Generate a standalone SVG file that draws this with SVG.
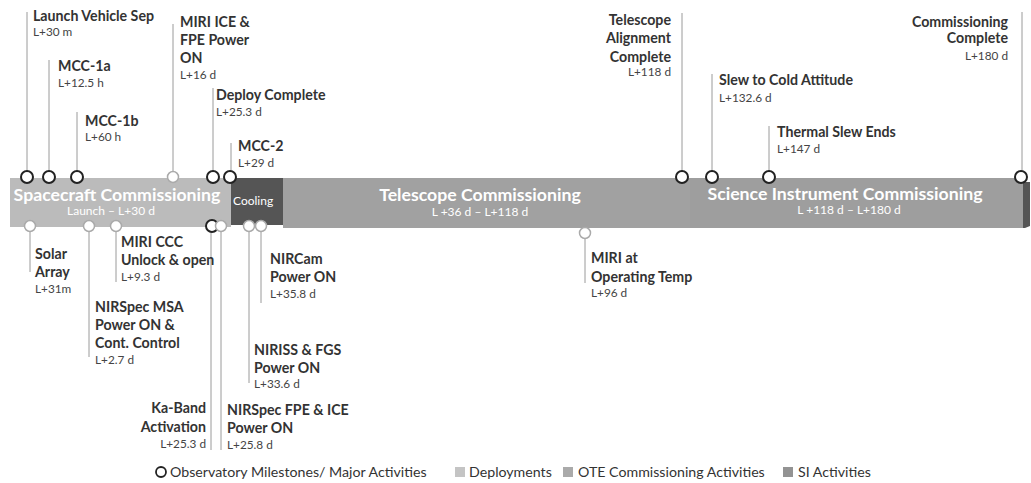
<svg xmlns="http://www.w3.org/2000/svg" width="1031" height="483" viewBox="0 0 1031 483">
<style>
.lbl{font-family:Lato,"Liberation Sans",sans-serif;font-weight:bold;font-size:14.2px;fill:#333}
.dt{font-family:Lato,"Liberation Sans",sans-serif;font-size:11.8px;fill:#444}
.r{text-anchor:end}
.bt{font-family:Lato,"Liberation Sans",sans-serif;font-weight:bold;font-size:17.7px;fill:#fff}
.bs{font-family:Lato,"Liberation Sans",sans-serif;font-size:12px;fill:#fff}
.c{text-anchor:middle}
.lead{stroke:#9a9a9a;stroke-width:1;fill:none}
.ms{fill:#fff;stroke:#222;stroke-width:2}
.mi{fill:#fff;stroke:#aaa;stroke-width:1.5}
.lg{font-family:Lato,"Liberation Sans",sans-serif;font-size:14.2px;fill:#333}
</style>
<rect width="1031" height="483" fill="#fff"/>
<g id="bar">
  <g id="spacecraft-commissioning">
    <rect x="10" y="178" width="221" height="49" fill="#bbbbbb"/>
    <text class="bt c" x="117" y="201">Spacecraft Commissioning</text>
    <text class="bs c" x="111" y="215">Launch – L+30 d</text>
  </g>
  <g id="cooling">
    <rect x="231" y="178" width="52" height="47" fill="#555"/>
    <text class="bs" x="233" y="205" font-size="14">Cooling</text>
  </g>
  <g id="telescope-commissioning">
    <rect x="283" y="178" width="407" height="50" fill="#a1a1a1"/>
    <text class="bt c" x="480" y="201">Telescope Commissioning</text>
    <text class="bs c" x="480" y="216" font-size="13">L +36 d – L+118 d</text>
  </g>
  <g id="si-commissioning">
    <rect x="690" y="178" width="333" height="50" fill="#9e9e9e"/>
    <polygon points="1023,182 1030,182 1030,226 1025,228 1023,228" fill="#555"/>
    <text class="bt c" x="845" y="200">Science Instrument Commissioning</text>
    <text class="bs c" x="849" y="214" font-size="12.5">L +118 d – L+180 d</text>
  </g>
</g>
<g id="connectors">
  <line class="lead" x1="27" y1="12" x2="27" y2="171"/>
  <line class="lead" x1="49" y1="60" x2="49" y2="171"/>
  <line class="lead" x1="77" y1="112" x2="77" y2="171"/>
  <line class="lead" x1="173" y1="24" x2="173" y2="172"/>
  <line class="lead" x1="213" y1="88" x2="213" y2="171"/>
  <line class="lead" x1="231" y1="143" x2="231" y2="171"/>
  <line class="lead" x1="682" y1="13" x2="682" y2="171"/>
  <line class="lead" x1="712" y1="74" x2="712" y2="171"/>
  <line class="lead" x1="769" y1="126" x2="769" y2="171"/>
  <line class="lead" x1="1022" y1="12" x2="1022" y2="171"/>
  <line class="lead" x1="30" y1="232" x2="30" y2="272"/>
  <line class="lead" x1="89" y1="232" x2="89" y2="357"/>
  <line class="lead" x1="116" y1="232" x2="116" y2="282"/>
  <line class="lead" x1="211" y1="232" x2="211" y2="450"/>
  <line class="lead" x1="221" y1="232" x2="221" y2="450"/>
  <line class="lead" x1="249" y1="232" x2="249" y2="383"/>
  <line class="lead" x1="261" y1="232" x2="261" y2="303"/>
  <line class="lead" x1="585" y1="239" x2="585" y2="283"/>
</g>
<g id="launch-vehicle-sep">
  <circle class="ms" cx="27" cy="177" r="6"/>
  <text class="lbl" x="33" y="21">Launch Vehicle Sep</text>
  <text class="dt" x="33" y="36">L+30 m</text>
</g>
<g id="mcc-1a">
  <circle class="ms" cx="49" cy="177" r="6"/>
  <text class="lbl" x="58" y="71">MCC-1a</text>
  <text class="dt" x="58" y="87">L+12.5 h</text>
</g>
<g id="mcc-1b">
  <circle class="ms" cx="77" cy="177" r="6"/>
  <text class="lbl" x="85" y="126">MCC-1b</text>
  <text class="dt" x="85" y="141">L+60 h</text>
</g>
<g id="miri-ice-fpe">
  <circle class="mi" cx="173" cy="177" r="5.5"/>
  <text class="lbl" x="180" y="27">MIRI ICE &amp;</text>
  <text class="lbl" x="180" y="45">FPE Power</text>
  <text class="lbl" x="180" y="63">ON</text>
  <text class="dt" x="180" y="79">L+16 d</text>
</g>
<g id="deploy-complete">
  <circle class="ms" cx="213" cy="177" r="6"/>
  <text class="lbl" x="216" y="100">Deploy Complete</text>
  <text class="dt" x="216" y="116">L+25.3 d</text>
</g>
<g id="mcc-2">
  <circle class="ms" cx="230" cy="177" r="6"/>
  <text class="lbl" x="238" y="151">MCC-2</text>
  <text class="dt" x="238" y="167">L+29 d</text>
</g>
<g id="telescope-alignment">
  <circle class="ms" cx="682" cy="177" r="6"/>
  <text class="lbl r" x="671" y="25">Telescope</text>
  <text class="lbl r" x="671" y="43">Alignment</text>
  <text class="lbl r" x="671" y="62">Complete</text>
  <text class="dt r" x="671" y="76">L+118 d</text>
</g>
<g id="slew-cold">
  <circle class="ms" cx="712" cy="177" r="6"/>
  <text class="lbl" x="719" y="85">Slew to Cold Attitude</text>
  <text class="dt" x="719" y="102">L+132.6 d</text>
</g>
<g id="thermal-slew">
  <circle class="ms" cx="769" cy="177" r="6"/>
  <text class="lbl" x="777" y="137">Thermal Slew Ends</text>
  <text class="dt" x="777" y="153">L+147 d</text>
</g>
<g id="commissioning-complete">
  <circle class="ms" cx="1021" cy="177" r="6"/>
  <text class="lbl r" x="1008" y="27">Commissioning</text>
  <text class="lbl r" x="1008" y="43">Complete</text>
  <text class="dt r" x="1008" y="60">L+180 d</text>
</g>
<g id="solar-array">
  <circle class="mi" cx="30" cy="226" r="5.5"/>
  <text class="lbl" x="35" y="259">Solar</text>
  <text class="lbl" x="35" y="277">Array</text>
  <text class="dt" x="35" y="293">L+31m</text>
</g>
<g id="nirspec-msa">
  <circle class="mi" cx="89" cy="226" r="5.5"/>
  <text class="lbl" x="95" y="312">NIRSpec MSA</text>
  <text class="lbl" x="95" y="330">Power ON &amp;</text>
  <text class="lbl" x="95" y="348">Cont. Control</text>
  <text class="dt" x="95" y="364">L+2.7 d</text>
</g>
<g id="miri-ccc">
  <circle class="mi" cx="116" cy="226" r="5.5"/>
  <text class="lbl" x="121" y="247">MIRI CCC</text>
  <text class="lbl" x="121" y="265">Unlock &amp; open</text>
  <text class="dt" x="121" y="281">L+9.3 d</text>
</g>
<g id="ka-band">
  <circle class="ms" cx="212" cy="226" r="6"/>
  <text class="lbl r" x="206" y="413">Ka-Band</text>
  <text class="lbl r" x="206" y="432">Activation</text>
  <text class="dt r" x="206" y="448">L+25.3 d</text>
</g>
<g id="nirspec-fpe">
  <circle class="mi" cx="221" cy="226" r="5.5"/>
  <text class="lbl" x="227" y="415">NIRSpec FPE &amp; ICE</text>
  <text class="lbl" x="227" y="433">Power ON</text>
  <text class="dt" x="227" y="449">L+25.8 d</text>
</g>
<g id="niriss-fgs">
  <circle class="mi" cx="249" cy="226" r="5.5"/>
  <text class="lbl" x="254" y="355">NIRISS &amp; FGS</text>
  <text class="lbl" x="254" y="373">Power ON</text>
  <text class="dt" x="254" y="388">L+33.6 d</text>
</g>
<g id="nircam">
  <circle class="mi" cx="261" cy="226" r="5.5"/>
  <text class="lbl" x="270" y="264">NIRCam</text>
  <text class="lbl" x="270" y="282">Power ON</text>
  <text class="dt" x="270" y="298">L+35.8 d</text>
</g>
<g id="miri-temp">
  <circle class="mi" cx="585" cy="233" r="5.5"/>
  <text class="lbl" x="591" y="263">MIRI at</text>
  <text class="lbl" x="591" y="282">Operating Temp</text>
  <text class="dt" x="591" y="297">L+96 d</text>
</g>
<g id="legend">
  <circle cx="161" cy="472" r="5" fill="#fff" stroke="#222" stroke-width="1.8"/>
  <text class="lg" x="170" y="477">Observatory Milestones/ Major Activities</text>
  <rect x="455" y="467" width="10" height="10" fill="#c4c4c4"/>
  <text class="lg" x="469" y="477">Deployments</text>
  <rect x="563" y="467" width="10" height="10" fill="#aaaaaa"/>
  <text class="lg" x="578" y="477">OTE Commissioning Activities</text>
  <rect x="783" y="467" width="10" height="10" fill="#939393"/>
  <text class="lg" x="798" y="477">SI Activities</text>
</g>
</svg>
